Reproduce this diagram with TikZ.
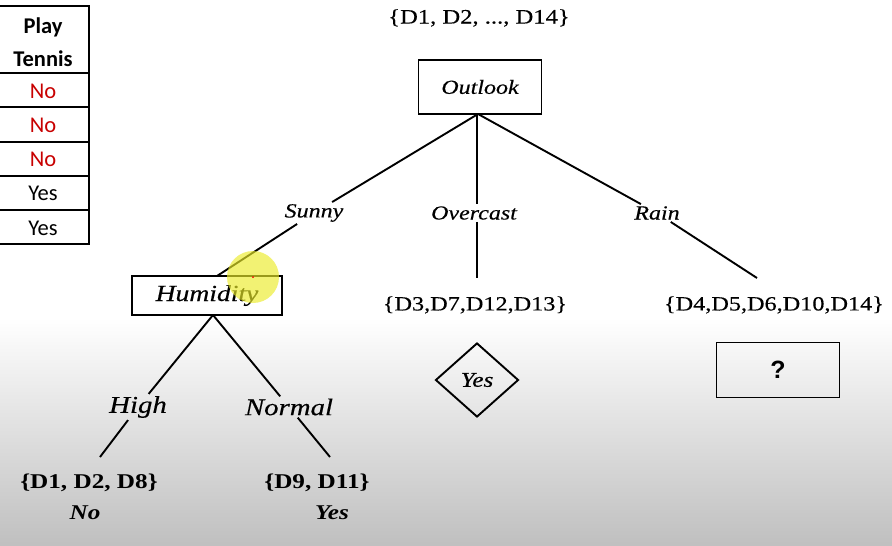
\documentclass[tikz,border=0pt]{standalone}
\usepackage{fontspec}
\setmainfont{Liberation Serif}
\newfontfamily\rs[FakeStretch=1.2,FakeBold=0.35]{Liberation Serif}
\newfontfamily\rsb[FakeStretch=1.2]{Liberation Serif}
\newfontfamily\tabf{Carlito}
\newfontfamily\qf{Liberation Sans}
\usetikzlibrary{shapes.geometric}
\definecolor{tabred}{RGB}{200,0,0}
\definecolor{hilite}{RGB}{236,236,40}
\begin{document}
\begin{tikzpicture}[x=1pt,y=-1pt,
  boxn/.style={draw, line width=1.9pt, inner sep=0pt},
  lbl/.style={inner sep=2pt, font=\rs\itshape\fontsize{20}{24}\selectfont},
  lbltwo/.style={inner sep=2pt, font=\rs\itshape\fontsize{24}{28}\selectfont},
  setn/.style={inner sep=2pt, font=\rs\fontsize{20.2}{24}\selectfont},
  bsetn/.style={inner sep=2pt, font=\rsb\bfseries\fontsize{21}{24}\selectfont},
  edge/.style={line width=1.9pt},
  tabtxt/.style={font=\tabf\fontsize{22.5}{26}\selectfont, inner sep=0pt},
  tabline/.style={line width=1.8pt}]
\useasboundingbox (0,0) rectangle (892,546);
\fill[white] (0,0) rectangle (892,546);
\shade[top color=white, bottom color=gray!50] (0,318) rectangle (892,546);

% table
\draw[tabline] (-2,6) rectangle (89,244);
\foreach \yy in {73,107,142,176,210} \draw[tabline] (-2,\yy) -- (89,\yy);
\node[tabtxt, font=\tabf\bfseries\fontsize{22.5}{26}\selectfont] (tp) at (43,27) {Play};
\node[tabtxt, font=\tabf\bfseries\fontsize{22.5}{26}\selectfont] (tt) at (43,59) {Tennis};
\node[tabtxt, text=tabred] (r1) at (43,91) {No};
\node[tabtxt, text=tabred] (r2) at (43,125) {No};
\node[tabtxt, text=tabred] (r3) at (43,159) {No};
\node[tabtxt] (r4) at (43,193) {Yes};
\node[tabtxt] (r5) at (43,228) {Yes};

% tree nodes
\node[setn, font=\rs\fontsize{20.5}{24}\selectfont] (all) at (479,18) {\{D1, D2, ..., D14\}};
\node[boxn, minimum width=123pt, minimum height=54pt] (outlook) at (480,87)
  {\rs\itshape\fontsize{20}{24}\selectfont Outlook};
\node[lbl] (sunny) at (314,213) {Sunny};
\node[lbl] (overcast) at (474,213) {Overcast};
\node[lbl] (rain) at (657,213) {Rain};
\node[boxn, minimum width=150pt, minimum height=39pt] (hum) at (207,295.5)
  {\rs\itshape\fontsize{23}{26}\selectfont Humidity};
\node[setn] (sover) at (475,305) {\{D3,D7,D12,D13\}};
\node[setn] (srain) at (774,305) {\{D4,D5,D6,D10,D14\}};
\node[draw, diamond, line width=1.9pt, minimum width=83pt, minimum height=74pt, inner sep=0pt]
  (yesd) at (477,380) {\rs\itshape\fontsize{21}{24}\selectfont Yes};
\node[boxn, minimum width=123pt, minimum height=55pt] (q) at (778,370)
  {\qf\bfseries\fontsize{25}{28}\selectfont ?};
\node[lbltwo] (high) at (138,407) {High};
\node[lbltwo] (normal) at (289,407) {Normal};
\node[bsetn] (shigh) at (89,483) {\{D1, D2, D8\}};
\node[bsetn, font=\rsb\bfseries\itshape\fontsize{21}{24}\selectfont] (no) at (85,513) {No};
\node[bsetn] (snorm) at (317,483) {\{D9, D11\}};
\node[bsetn, font=\rsb\bfseries\itshape\fontsize{21}{24}\selectfont] (yes) at (332,513) {Yes};

% connector end points
\coordinate (apex) at (478,114);
\coordinate (hs) at (217,276);
\coordinate (ovtop) at (477,114);
\coordinate (ovend) at (477,278);
\coordinate (rainend) at (757,278);
\coordinate (happex) at (213,315);
\coordinate (hend) at (100,457);
\coordinate (nend) at (330,457);

% connectors
\draw[edge] (apex) -- (sunny);
\draw[edge] (sunny) -- (hs);
\draw[edge] (ovtop) -- (ovtop |- overcast.north);
\draw[edge] (ovend |- overcast.south) -- (ovend);
\draw[edge] (apex) -- (rain);
\draw[edge] (rain) -- (rainend);
\draw[edge] (happex) -- (high);
\draw[edge] (happex) -- (normal);
\draw[edge] (high) -- (hend);
\draw[edge] (normal) -- (nend);

% pointer highlight
\fill[hilite, opacity=0.65] (253,277) circle (26pt);
\fill[red] (253,277) circle (1pt);
\end{tikzpicture}
\end{document}
